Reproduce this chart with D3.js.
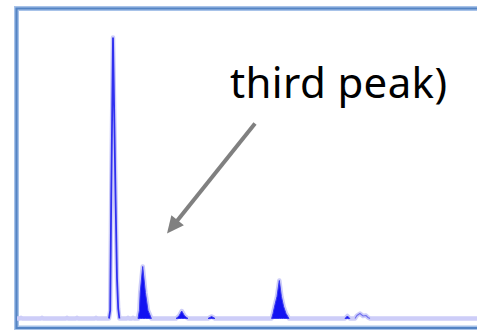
<!DOCTYPE html>
<html>
<head>
<meta charset="utf-8">
<script src="https://cdn.jsdelivr.net/npm/d3@7"></script>
<style>
  html, body { margin: 0; padding: 0; background: #fff; overflow: hidden; }
  svg { display: block; }
</style>
</head>
<body>
<svg id="chart" width="477" height="330"></svg>
<script>
// Chromatogram trace: retention time (min) and detector signal (mAU)
const traceTime = [
  0.0, 0.15, 0.2, 0.25, 1.2, 1.25, 1.3, 2.45, 2.5, 2.55, 2.95, 3.0, 3.05, 3.9, 3.95, 4.0,
  4.6, 4.66, 4.71, 4.8, 4.93, 5.0, 5.06, 5.12,
  5.5, 5.55, 5.6, 5.75, 5.8, 5.85,
  6.05, 6.12, 6.16, 6.285, 6.42, 6.55, 6.72,
  7.95, 8.1, 8.235, 8.38, 8.55,
  9.55, 9.73, 9.9,
  12.73, 12.8, 12.9, 13.0, 13.115, 13.22, 13.33, 13.45, 13.6,
  16.4, 16.52, 16.64,
  16.9, 17.0, 17.15, 17.3, 17.45, 17.55, 17.65,
  23.0
];
const traceSignal = [
  0, 0, 0.8, 0, 0, 0.8, 0, 0, 0.8, 0, 0, 0.8, 0, 0, 0.8, 0,
  0, 8, 118, 281, 118, 40, 10, 0,
  0, 0.8, 0, 0, 0.8, 0,
  0, 8, 26, 52, 26, 8, 0,
  0, 2.5, 7.5, 2.5, 0,
  0, 2, 0,
  0, 5, 14, 22, 38, 22, 12, 5, 0,
  0, 2.5, 0,
  0, 3, 5, 2.5, 3, 1, 0,
  0
];

// Integrated (shaded) peak windows, in minutes
const shadedStart = [6.05, 7.95, 9.55, 12.73, 16.4];
const shadedEnd   = [6.72, 8.55, 9.9, 13.6, 16.64];

// Main peak drawn as an outline only
const mainPeakWindow = [4.6, 5.12];
// Small unshaded hump drawn as an outline
const humpWindow = [16.9, 17.65];

// Annotation (text anchor, arrow tail, arrow tip) in data units
const labelText = "third peak)";
const labelAt = { t: 10.65, s: 221 };
const arrowFrom = { t: 11.9, s: 195 };
const arrowTo = { t: 7.5, s: 85 };

const trace = traceTime.map((t, i) => ({ t, s: traceSignal[i] }));

const W = 477, H = 330;
const svg = d3.select("#chart");
const x = d3.scaleLinear().domain([0, 23]).range([17, 477]);
const y = d3.scaleLinear().domain([0, 300]).range([318.5, 18.5]);

svg.append("defs").append("clipPath").attr("id", "view")
  .append("rect").attr("x", 0).attr("y", 0).attr("width", W).attr("height", H);

const root = svg.append("g").attr("clip-path", "url(#view)");

// plot frame: one open polyline (top, left, bottom) running off the right side
const frameLeft = 16.5, frameTop = 8.5, frameBottom = 328, frameRight = W + 40;
const framePts = [
  [frameRight, frameTop], [frameLeft, frameTop],
  [frameLeft, frameBottom], [frameRight, frameBottom]
];
const frame = root.append("g").attr("fill", "none");
frame.append("path").attr("d", d3.line()(framePts))
  .attr("stroke", "#a8c3e9").attr("stroke-width", 5);
frame.append("path").attr("d", d3.line()(framePts))
  .attr("stroke", "#5484c4").attr("stroke-width", 2.2);

const plot = root.append("g");

const line = d3.line().x(d => x(d.t)).y(d => y(d.s));
const area = d3.area().x(d => x(d.t)).y0(y(0)).y1(d => y(d.s));

// pale baseline band (whole trace)
plot.append("path")
  .datum(trace)
  .attr("d", line)
  .attr("fill", "none")
  .attr("stroke", "#cdcdf8")
  .attr("stroke-width", 4.5)
  .attr("stroke-linejoin", "round");

// shaded peaks
shadedStart.forEach((a, i) => {
  const b = shadedEnd[i];
  const pts = trace.filter(d => d.t >= a && d.t <= b);
  plot.append("path")
    .datum(pts)
    .attr("d", area)
    .attr("fill", "#1212f2")
    .attr("stroke", "#3a3af2")
    .attr("stroke-width", 1);
});

// main peak outline
plot.append("path")
  .datum(trace.filter(d => d.t >= mainPeakWindow[0] && d.t <= mainPeakWindow[1]))
  .attr("d", line)
  .attr("fill", "none")
  .attr("stroke", "#3030f0")
  .attr("stroke-width", 1.8)
  .attr("stroke-linejoin", "miter");

// small hump outline
plot.append("path")
  .datum(trace.filter(d => d.t >= humpWindow[0] && d.t <= humpWindow[1]))
  .attr("d", line)
  .attr("fill", "none")
  .attr("stroke", "#7070f0")
  .attr("stroke-width", 1.1);

// annotation arrow
const x1 = x(arrowFrom.t), y1 = y(arrowFrom.s);
const x2 = x(arrowTo.t), y2 = y(arrowTo.s);
const len = Math.hypot(x2 - x1, y2 - y1);
const ux = (x2 - x1) / len, uy = (y2 - y1) / len;
const headLen = 17, headHalf = 8;
const bx = x2 - ux * headLen, by = y2 - uy * headLen;
root.append("line")
  .attr("x1", x1).attr("y1", y1).attr("x2", bx + ux * 2).attr("y2", by + uy * 2)
  .attr("stroke", "#808080").attr("stroke-width", 4);
root.append("path")
  .attr("d", d3.line()([
    [x2, y2],
    [bx - uy * headHalf, by + ux * headHalf],
    [bx + uy * headHalf, by - ux * headHalf]
  ]) + "Z")
  .attr("fill", "#808080");

// annotation text
root.append("text")
  .attr("x", x(labelAt.t))
  .attr("y", y(labelAt.s))
  .attr("font-family", "'Noto Sans', 'Open Sans', sans-serif")
  .attr("font-size", 42)
  .attr("textLength", 217)
  .attr("lengthAdjust", "spacing")
  .attr("fill", "#000")
  .text(labelText);
</script>
</body>
</html>
